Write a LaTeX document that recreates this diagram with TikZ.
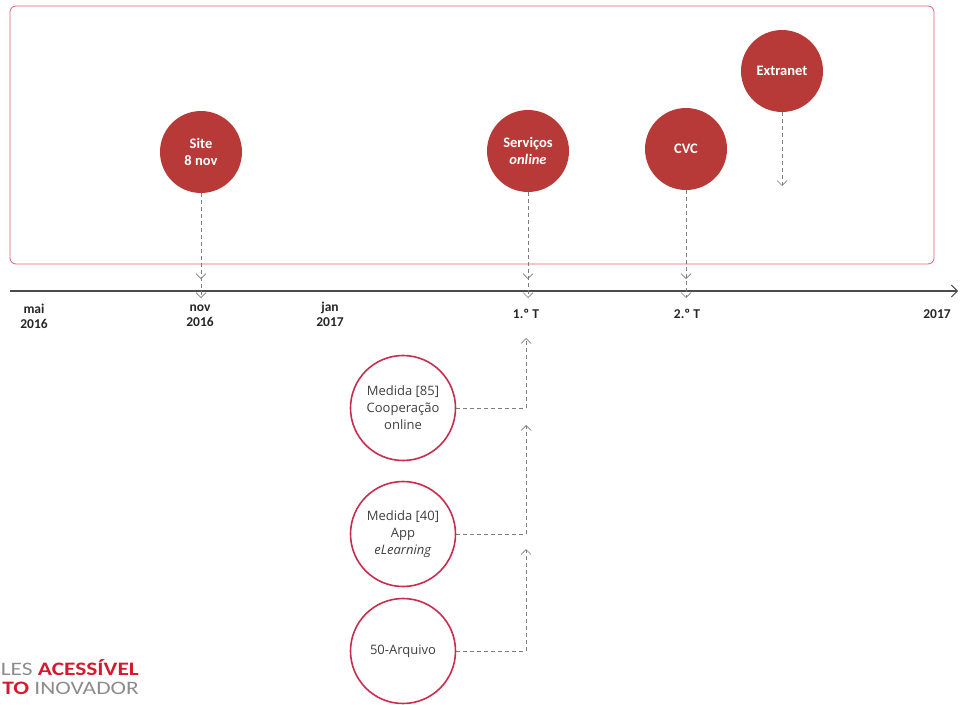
\documentclass[tikz,border=0pt]{standalone}
\usepackage{fontspec}
\usepackage{graphicx}
\setmainfont{Carlito}
\newfontfamily\medfont{Open Sans}
\usetikzlibrary{arrows.meta}
\definecolor{marcred}{RGB}{184,58,56}
\definecolor{ringred}{RGB}{200,45,80}
\definecolor{boxred}{RGB}{222,95,110}
\definecolor{dashgray}{RGB}{125,125,125}
\definecolor{axisgray}{RGB}{75,75,75}
\definecolor{logored}{RGB}{215,25,45}
\definecolor{logogray}{RGB}{140,140,140}
\tikzset{
  >={Straight Barb[length=5pt,width=10pt]},
  marco/.style={circle,fill=marcred,minimum size=82pt,inner sep=0pt,text=white,
    align=center,font=\fontsize{14.5}{17}\selectfont\bfseries},
  medida/.style={circle,draw=ringred,line width=1.6pt,fill=white,minimum size=105pt,
    inner sep=0pt,text=black!75,align=center,font=\medfont\fontsize{13}{17}\selectfont},
  seta/.style={dashgray,dash pattern=on 4pt off 3pt,line width=0.7pt},
  data/.style={align=center,text=black!85,font=\fontsize{13.5}{15}\selectfont\bfseries}
}
\begin{document}
\begin{tikzpicture}[x=1pt,y=-1pt]
\useasboundingbox (0,0) rectangle (960,704);
\draw[boxred,line width=0.8pt,rounded corners=6pt] (10,6) rectangle (934,264);
% eixo temporal
\coordinate (t0) at (10,291);
\coordinate (t1) at (958,291);
\coordinate (tb) at (0,298);
\draw[axisgray,line width=1.8pt,-{Straight Barb[length=6pt,width=12pt,line width=1pt]}] (t0) -- (t1);
\foreach \x/\y/\t in {34/316/{mai\\2016},200/316/{nov\\2016},330/314/{jan\\2017},
    526/314/{1.º T},687/314/{2.º T},937/314/{2017}}
  \node[data] (d\x) at (\x,\y) {\t};
% marcos
\node[marco] (site) at (201,152) {Site\\8 nov};
\node[marco] (serv) at (528,151) {Serviços\\\textit{online}};
\node[marco] (cvc) at (686,149) {CVC};
\node[marco] (extra) at (782,71) {Extranet};
\coordinate (ext) at (782,186);
\draw[seta,-{>[sep=13pt]>}] (site) -- (site |- tb);
\draw[seta,-{>[sep=13pt]>}] (serv) -- (serv |- tb);
\draw[seta,-{>[sep=13pt]>}] (cvc) -- (cvc |- tb);
\draw[seta,->] (extra) -- (ext);
% medidas
\node[medida] (m85) at (403,408) {Medida [85]\\Cooperação\\online};
\node[medida] (m40) at (403,534) {Medida [40]\\App\\\textit{eLearning}};
\node[medida] (arq) at (403,651) {50-Arquivo};
\coordinate (u1) at (526,338);
\coordinate (u2) at (526,425);
\coordinate (u3) at (526,549);
\draw[seta,->] (m85) -- (m85 -| u1) -- (u1);
\draw[seta,->] (m40) -- (m40 -| u2) -- (u2);
\draw[seta,->] (arq) -- (arq -| u3) -- (u3);
% logotipo
\node[anchor=base east,inner sep=0pt,font=\fontsize{19}{19}\selectfont] (lg1) at (139,675)
  {\scalebox{1.23}[1]{\textcolor{logogray}{LES} \textcolor{logored}{\bfseries ACESSÍVEL}}};
\node[anchor=base east,inner sep=0pt,font=\fontsize{19}{19}\selectfont] (lg2) at (139,694)
  {\scalebox{1.23}[1]{\textcolor{logored}{\bfseries TO} \textcolor{logogray}{INOVADOR}}};
\end{tikzpicture}
\end{document}
